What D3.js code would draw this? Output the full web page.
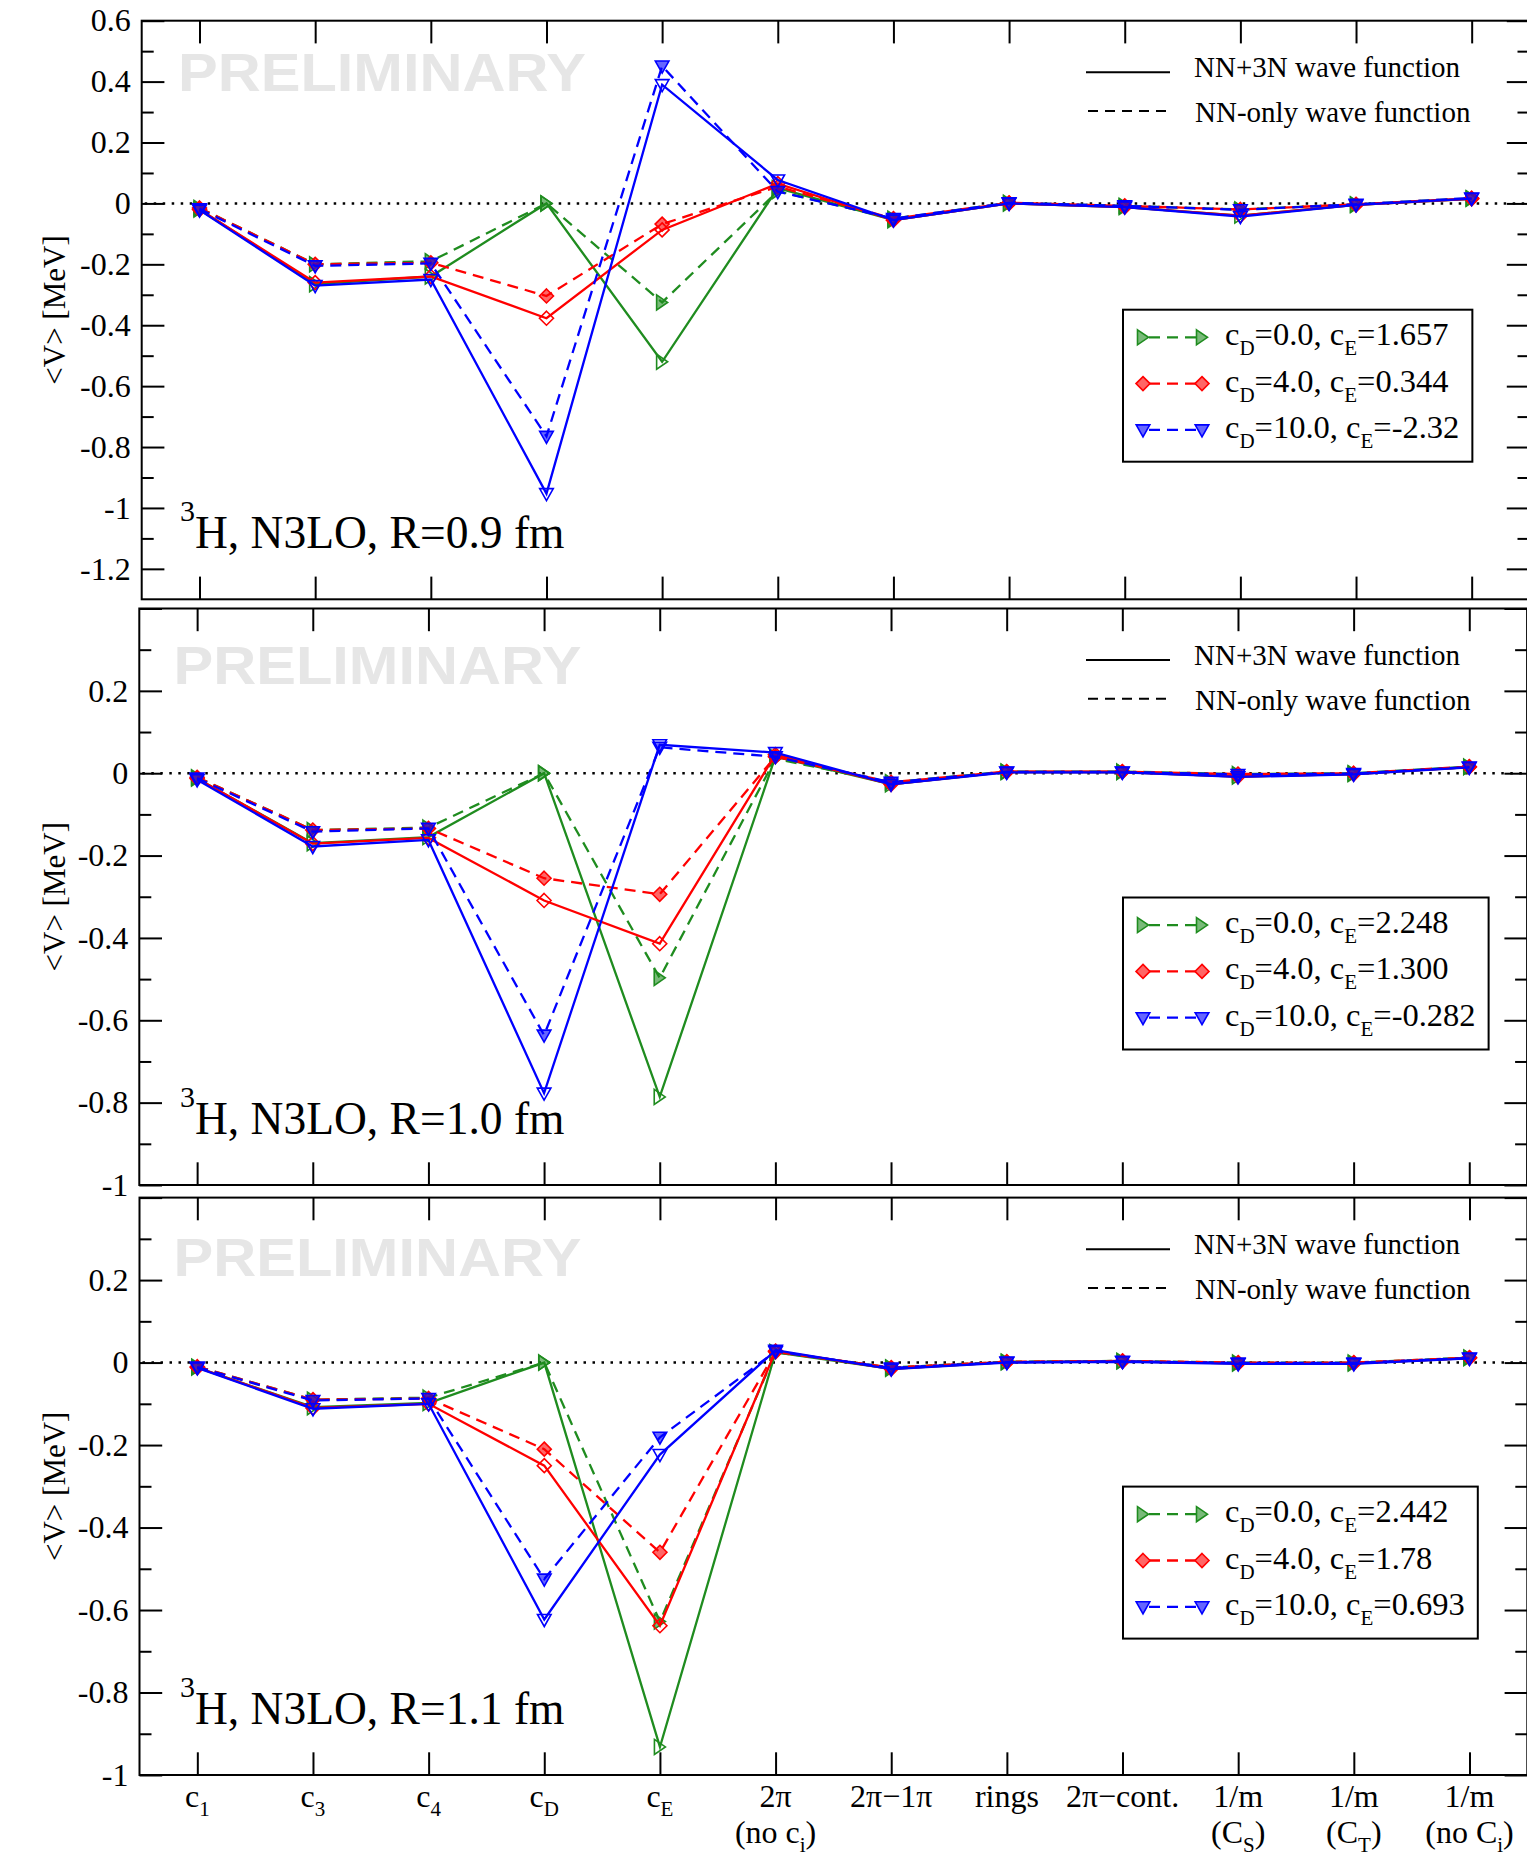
<html>
<head>
<meta charset="utf-8">
<script src="https://d3js.org/d3.v7.min.js"></script>
<style>
  body { margin: 0; background: #fff; }
  text { font-family: "Liberation Serif", "Times New Roman", serif; }
</style>
</head>
<body>
<svg id="chart" width="1527" height="1856"></svg>
<script>
// categories along x (12 contributions to <V>)
const CATS = ["c1", "c3", "c4", "cD", "cE", "2pi", "2pi-1pi", "rings", "2pi-cont", "1/m CS", "1/m CT", "1/m noCi"];
const X_LABEL_TOP = ["c_{1}", "c_{3}", "c_{4}", "c_{D}", "c_{E}", "2π", "2π−1π", "rings", "2π−cont.", "1/m", "1/m", "1/m"];
const X_LABEL_BOT = ["", "", "", "", "", "(no c_{i})", "", "", "", "(C_{S})", "(C_{T})", "(no C_{i})"];

// y ticks
const Y_MAJOR_1 = [0.6, 0.4, 0.2, 0, -0.2, -0.4, -0.6, -0.8, -1, -1.2];
const Y_MINOR_1 = [0.5, 0.3, 0.1, -0.1, -0.3, -0.5, -0.7, -0.9, -1.1];
const Y_MAJOR_23 = [0.4, 0.2, 0, -0.2, -0.4, -0.6, -0.8, -1];
const Y_LABELS_23 = [0.2, 0, -0.2, -0.4, -0.6, -0.8, -1];
const Y_MINOR_23 = [0.3, 0.1, -0.1, -0.3, -0.5, -0.7, -0.9];

// R = 0.9 fm  (3N = NN+3N wave function, NN = NN-only wave function)
const R09_G_3N = [-0.02, -0.265, -0.24, 0.0, -0.52, 0.05, -0.055, 0.0, -0.012, -0.04, -0.005, 0.015];
const R09_G_NN = [-0.015, -0.2, -0.19, 0.0, -0.325, 0.04, -0.05, 0.002, -0.008, -0.02, -0.003, 0.017];
const R09_R_3N = [-0.02, -0.26, -0.24, -0.377, -0.087, 0.065, -0.055, 0.0, -0.012, -0.04, -0.005, 0.015];
const R09_R_NN = [-0.015, -0.2, -0.195, -0.304, -0.068, 0.055, -0.05, 0.002, -0.008, -0.02, -0.003, 0.017];
const R09_B_3N = [-0.022, -0.27, -0.25, -0.953, 0.39, 0.077, -0.055, 0.0, -0.012, -0.043, -0.005, 0.016];
const R09_B_NN = [-0.018, -0.205, -0.197, -0.765, 0.451, 0.039, -0.05, 0.002, -0.008, -0.021, -0.003, 0.018];
const R09_LEGEND = ["c_{D}=0.0, c_{E}=1.657", "c_{D}=4.0, c_{E}=0.344", "c_{D}=10.0, c_{E}=-2.32"];

// R = 1.0 fm
const R10_G_3N = [-0.013, -0.17, -0.155, 0.0, -0.786, 0.04, -0.027, 0.003, 0.003, -0.008, -0.002, 0.015];
const R10_G_NN = [-0.01, -0.138, -0.132, 0.0, -0.497, 0.035, -0.022, 0.004, 0.004, -0.002, 0.0, 0.016];
const R10_R_3N = [-0.013, -0.171, -0.157, -0.309, -0.414, 0.045, -0.027, 0.003, 0.003, -0.008, -0.002, 0.015];
const R10_R_NN = [-0.01, -0.138, -0.134, -0.255, -0.294, 0.04, -0.022, 0.004, 0.004, -0.002, 0.0, 0.016];
const R10_B_3N = [-0.016, -0.178, -0.162, -0.777, 0.069, 0.05, -0.027, 0.002, 0.002, -0.009, -0.003, 0.014];
const R10_B_NN = [-0.012, -0.142, -0.134, -0.636, 0.063, 0.04, -0.022, 0.003, 0.003, -0.003, -0.001, 0.015];
const R10_LEGEND = ["c_{D}=0.0, c_{E}=2.248", "c_{D}=4.0, c_{E}=1.300", "c_{D}=10.0, c_{E}=-0.282"];

// R = 1.1 fm
const R11_G_3N = [-0.012, -0.108, -0.098, 0.0, -0.932, 0.025, -0.015, 0.001, 0.003, -0.002, -0.002, 0.011];
const R11_G_NN = [-0.01, -0.09, -0.085, 0.0, -0.628, 0.025, -0.012, 0.002, 0.004, 0.0, 0.0, 0.012];
const R11_R_3N = [-0.012, -0.11, -0.1, -0.25, -0.638, 0.028, -0.015, 0.001, 0.003, -0.002, -0.002, 0.011];
const R11_R_NN = [-0.01, -0.09, -0.087, -0.21, -0.46, 0.026, -0.012, 0.002, 0.004, 0.0, 0.0, 0.012];
const R11_B_3N = [-0.013, -0.112, -0.1, -0.623, -0.223, 0.03, -0.016, 0.0, 0.002, -0.003, -0.003, 0.01];
const R11_B_NN = [-0.011, -0.092, -0.087, -0.525, -0.181, 0.027, -0.013, 0.001, 0.003, -0.001, -0.001, 0.011];
const R11_LEGEND = ["c_{D}=0.0, c_{E}=2.442", "c_{D}=4.0, c_{E}=1.78", "c_{D}=10.0, c_{E}=0.693"];

const COLORS = ["#1f8c1f", "#ff0000", "#0000ff"];
const SHAPES = ["right", "diamond", "down"];

const panels = [
  { title: "^{3}H, N3LO, R=0.9 fm", ydom: [-1.3, 0.6], major: Y_MAJOR_1, labels: Y_MAJOR_1, minor: Y_MINOR_1,
    series: [[R09_G_3N, R09_G_NN], [R09_R_3N, R09_R_NN], [R09_B_3N, R09_B_NN]], legend: R09_LEGEND,
    top: 20.7, bottom: 599.3, left: 141.7, wmY: 70, wmX: 178 },
  { title: "^{3}H, N3LO, R=1.0 fm", ydom: [-1, 0.4], major: Y_MAJOR_23, labels: Y_LABELS_23, minor: Y_MINOR_23,
    series: [[R10_G_3N, R10_G_NN], [R10_R_3N, R10_R_NN], [R10_B_3N, R10_B_NN]], legend: R10_LEGEND,
    top: 608.5, bottom: 1185, left: 139.3, wmY: 75, wmX: 173.5 },
  { title: "^{3}H, N3LO, R=1.1 fm", ydom: [-1, 0.4], major: Y_MAJOR_23, labels: Y_LABELS_23, minor: Y_MINOR_23,
    series: [[R11_G_3N, R11_G_NN], [R11_R_3N, R11_R_NN], [R11_B_3N, R11_B_NN]], legend: R11_LEGEND,
    top: 1197.6, bottom: 1775, left: 139.5, wmY: 78, wmX: 173.5 }
];

const STEP = 115.65;
const svg = d3.select("#chart");

// text with _{sub} and ^{sup}
function rich(sel, str, size, small, subShift, supShift) {
  const re = /([_^])\{([^}]*)\}/g;
  let parts = [], last = 0, m;
  while ((m = re.exec(str))) {
    if (m.index > last) parts.push({ t: str.slice(last, m.index), k: "" });
    parts.push({ t: m[2], k: m[1] });
    last = re.lastIndex;
  }
  if (last < str.length) parts.push({ t: str.slice(last), k: "" });
  let cur = 0;
  parts.forEach(p => {
    const target = p.k == "_" ? subShift : (p.k == "^" ? -supShift : 0);
    sel.append("tspan").attr("dy", target - cur).attr("font-size", p.k ? small : size).text(p.t);
    cur = target;
  });
  return sel;
}

function markerPath(shape) {
  if (shape == "right") return "M-5.5,-7.5L5.5,0L-5.5,7.5Z";
  if (shape == "diamond") return "M0,-7L7,0L0,7L-7,0Z";
  return "M-6.8,-5L6.8,-5L0,7Z";
}

function drawMarker(g, shape, color, cx, cy, filled) {
  g.append("path")
    .attr("d", markerPath(shape))
    .attr("transform", "translate(" + cx + "," + cy + ")")
    .attr("fill", filled ? color : "none")
    .attr("fill-opacity", filled ? 0.6 : 1)
    .attr("stroke", color)
    .attr("stroke-width", 1.6);
}

const fmt = d => String(+d.toFixed(1));

panels.forEach((p, pi) => {
  const L = p.left, R = p.left + 12 * STEP, T = p.top, B = p.bottom;
  const x = d3.scaleLinear().domain([0.5, 12.5]).range([L, R]);
  const y = d3.scaleLinear().domain(p.ydom).range([B, T]);
  const g = svg.append("g");

  // watermark
  g.append("text")
    .attr("x", p.wmX).attr("y", T + p.wmY)
    .style("font-family", "'Liberation Sans', Arial, sans-serif")
    .attr("font-weight", "bold").attr("font-size", 54)
    .attr("textLength", 408).attr("lengthAdjust", "spacingAndGlyphs")
    .attr("fill", "#e6e6e6")
    .text("PRELIMINARY");

  // zero line
  g.append("line")
    .attr("x1", L + 3).attr("x2", R).attr("y1", y(0)).attr("y2", y(0))
    .attr("stroke", "#000").attr("stroke-width", 2.5).attr("stroke-dasharray", "2.5,6.5");

  // axes ticks
  const tickStyle = sel => {
    sel.select(".domain").remove();
    sel.selectAll(".tick line").attr("stroke-width", 2);
  };
  g.append("g").attr("transform", "translate(" + L + ",0)")
    .call(d3.axisLeft(y).tickValues(p.major).tickSize(-22.7).tickPadding(11)
      .tickFormat(d => p.labels.includes(d) ? fmt(d) : ""))
    .call(tickStyle)
    .call(s => s.selectAll(".tick text").attr("font-size", 32).attr("fill", "#000")
      .style("font-family", "'Liberation Serif', 'Times New Roman', serif"));
  g.append("g").attr("transform", "translate(" + L + ",0)")
    .call(d3.axisLeft(y).tickValues(p.minor).tickSize(-12).tickFormat("")).call(tickStyle);
  g.append("g").attr("transform", "translate(" + R + ",0)")
    .call(d3.axisRight(y).tickValues(p.major).tickSize(-22.7).tickFormat("")).call(tickStyle);
  g.append("g").attr("transform", "translate(" + R + ",0)")
    .call(d3.axisRight(y).tickValues(p.minor).tickSize(-12).tickFormat("")).call(tickStyle);
  g.append("g").attr("transform", "translate(0," + B + ")")
    .call(d3.axisBottom(x).tickValues(d3.range(1, CATS.length + 1)).tickSize(-22.7).tickFormat("")).call(tickStyle);
  g.append("g").attr("transform", "translate(0," + T + ")")
    .call(d3.axisTop(x).tickValues(d3.range(1, CATS.length + 1)).tickSize(-22.7).tickFormat("")).call(tickStyle);

  // frame
  g.append("rect").attr("x", L).attr("y", T).attr("width", R - L).attr("height", B - T)
    .attr("fill", "none").attr("stroke", "#000").attr("stroke-width", 2);

  // y axis label
  g.append("text")
    .attr("transform", "translate(65," + ((T + B) / 2) + ") rotate(-90)")
    .attr("text-anchor", "middle").attr("font-size", 31)
    .text("<V> [MeV]");

  // data
  const line = d3.line().x((d, i) => x(i + 1)).y(d => y(d));
  p.series.forEach((pair, ci) => {
    pair.forEach((vals, k) => {
      g.append("path").datum(vals)
        .attr("d", line)
        .attr("fill", "none").attr("stroke", COLORS[ci]).attr("stroke-width", 2.3)
        .attr("stroke-dasharray", k == 1 ? "11,7" : null);
      vals.forEach((v, i) => drawMarker(g, SHAPES[ci], COLORS[ci], x(i + 1), y(v), k == 1));
    });
  });

  // title
  rich(g.append("text").attr("x", 180).attr("y", B - 51), p.title, 45.5, 30, 0, 27);

  // wave function legend
  g.append("line").attr("x1", 1086).attr("x2", 1170).attr("y1", T + 51.6).attr("y2", T + 51.6)
    .attr("stroke", "#000").attr("stroke-width", 2);
  g.append("text").attr("x", 1194).attr("y", T + 56.6).attr("font-size", 29).text("NN+3N wave function");
  g.append("line").attr("x1", 1088).attr("x2", 1170).attr("y1", T + 90.3).attr("y2", T + 90.3)
    .attr("stroke", "#000").attr("stroke-width", 2).attr("stroke-dasharray", "10,7");
  g.append("text").attr("x", 1195).attr("y", T + 101).attr("font-size", 29).text("NN-only wave function");

  // cD/cE legend box
  const lg = g.append("g");
  const box = lg.append("rect").attr("x", 1123).attr("y", T + 289).attr("height", 152)
    .attr("fill", "#fff").attr("stroke", "#000").attr("stroke-width", 2);
  let maxRight = 0;
  p.legend.forEach((lab, ci) => {
    const ly = T + 316.6 + ci * 46.3;
    lg.append("line").attr("x1", 1143).attr("x2", 1202).attr("y1", ly).attr("y2", ly)
      .attr("stroke", COLORS[ci]).attr("stroke-width", 2.3).attr("stroke-dasharray", "11,7")
      .attr("stroke-dashoffset", -6);
    drawMarker(lg, SHAPES[ci], COLORS[ci], 1143, ly, true);
    drawMarker(lg, SHAPES[ci], COLORS[ci], 1202, ly, true);
    const t = rich(lg.append("text").attr("x", 1225).attr("y", ly + 8), lab, 32.5, 21, 10, 0);
    const bb = t.node().getBBox();
    maxRight = Math.max(maxRight, bb.x + bb.width);
  });
  box.attr("width", maxRight + 13 - 1123);

  // x tick labels on the bottom panel only
  if (pi == panels.length - 1) {
    X_LABEL_TOP.forEach((lab, i) => {
      rich(svg.append("text").attr("x", x(i + 1)).attr("y", 1807).attr("text-anchor", "middle"),
        lab, 32, 21, 9, 0);
      if (X_LABEL_BOT[i])
        rich(svg.append("text").attr("x", x(i + 1)).attr("y", 1843).attr("text-anchor", "middle"),
          X_LABEL_BOT[i], 32, 21, 9, 0);
    });
  }
});
</script>
</body>
</html>
